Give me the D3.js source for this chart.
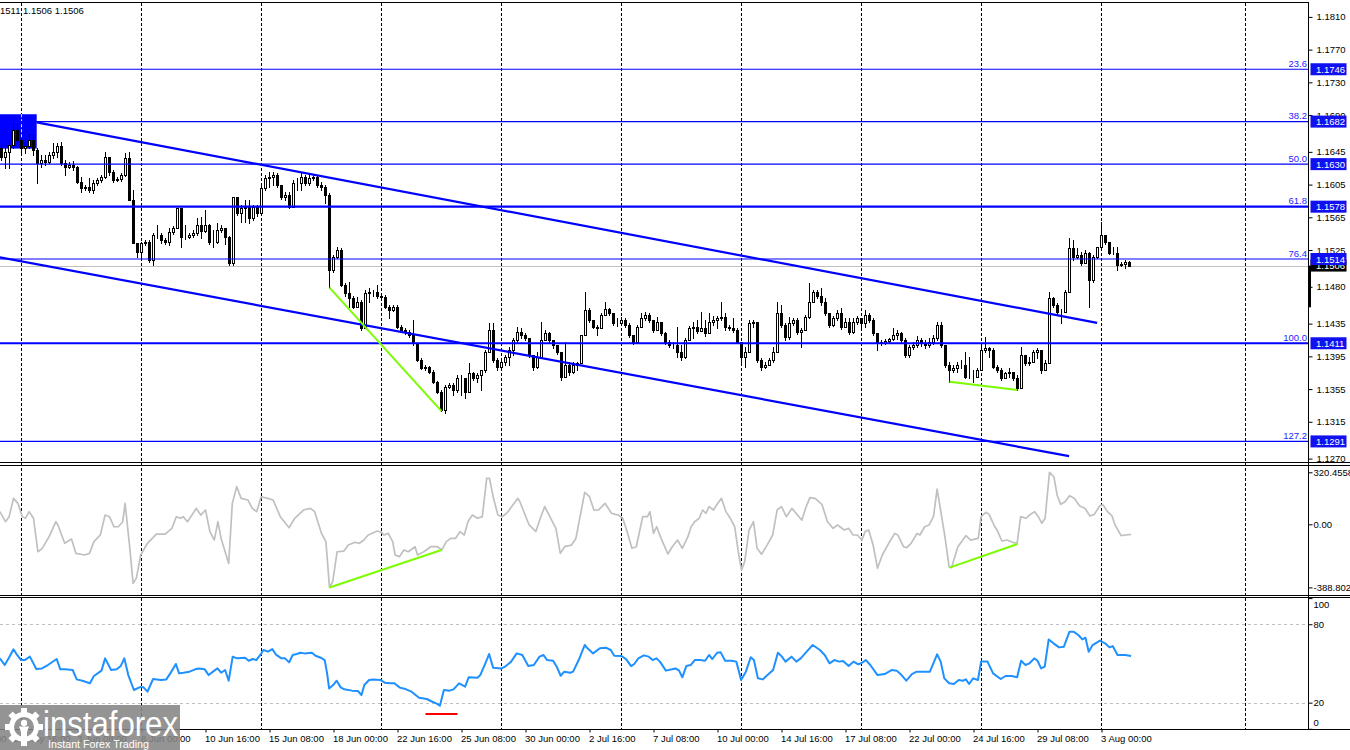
<!DOCTYPE html>
<html><head><meta charset="utf-8">
<script src="https://cdn.jsdelivr.net/npm/d3@7"></script>
<style>
body{margin:0;background:#fff;overflow:hidden}
svg{display:block}
text{font-family:"Liberation Sans",Arial,sans-serif}
</style></head>
<body><svg id="c" width="1350" height="750"></svg>
<script>
// ---------- DATA (prices in pips above 1.1000, H4 bars) ----------
const firstOpen = 650;
const closes = [
639,645,653,672,660,650,652,660,647,631,
635,633,641,645,652,631,627,629,627,608,
601,602,598,607,611,614,639,620,611,612,
617,638,586,534,523,534,535,513,543,543,
537,535,547,552,576,541,541,543,546,556,
548,556,535,535,549,552,541,509,590,570,
576,578,564,578,570,601,613,614,617,605,
590,592,578,607,607,614,607,613,614,605,
602,592,501,517,525,482,472,466,455,461,
430,472,474,474,469,468,455,452,455,431,
427,425,421,411,391,381,382,376,364,352,
329,358,360,354,369,369,352,375,369,372,
378,400,427,391,382,388,394,403,415,425,
421,417,397,382,394,415,424,415,409,400,
370,384,376,384,387,421,452,439,431,430,
446,453,448,436,436,439,433,421,413,431,
442,446,439,427,437,424,413,409,409,400,
394,415,430,431,426,430,424,437,439,442,
443,431,430,427,413,394,400,436,437,391,
382,384,391,400,448,433,419,436,439,425,
427,443,461,474,469,461,448,433,442,448,
431,437,425,437,442,436,446,439,424,413,
411,414,416,421,424,415,397,406,409,415,
411,409,413,417,433,409,384,378,381,384,
384,370,370,370,378,403,405,403,382,378,
368,375,376,368,356,397,387,388,400,403,
378,387,466,458,449,449,474,527,517,519,
509,521,488,517,529,543,535,521,521,507,
508,510,506];
const highs = [
653,650,660,684,680,662,662,666,666,650,
641,641,645,656,656,657,635,633,634,628,
614,605,613,611,613,617,645,638,623,614,
619,644,645,598,534,535,537,537,546,556,
546,540,552,554,576,576,556,546,549,564,
565,574,557,549,558,556,549,542,590,590,
580,586,586,580,580,605,617,620,620,619,
605,596,596,611,613,619,617,619,617,617,
608,605,595,519,529,528,485,486,469,468,
464,476,479,476,482,471,470,458,458,458,
433,430,427,439,411,393,384,383,378,365,
354,360,363,363,372,372,369,387,376,375,
378,403,436,436,393,393,397,406,417,431,
430,424,417,397,400,437,427,425,415,409,
391,413,388,388,388,421,474,454,439,433,
448,462,454,448,442,443,442,436,421,433,
448,449,448,439,443,437,425,415,413,431,
409,417,432,437,439,449,439,448,444,444,
461,448,433,442,430,406,406,439,439,437,
393,388,393,406,461,458,436,443,442,442,
430,446,485,476,476,479,466,448,444,452,
454,442,442,442,444,442,452,448,442,424,
415,416,417,430,427,425,417,409,413,420,
417,415,417,421,437,437,409,388,384,388,
391,400,394,378,381,411,419,406,405,384,
381,376,381,376,372,406,397,394,403,405,
400,391,474,468,460,453,476,540,537,528,
523,525,523,519,529,559,543,535,529,529,
510,513,511];
const lows = [
635,625,625,650,657,641,644,650,641,607,
627,629,631,638,639,629,617,625,623,607,
596,598,596,595,605,608,613,617,608,609,
609,616,586,534,517,517,531,510,507,540,
534,532,531,545,552,529,538,540,541,543,
540,547,532,529,534,547,532,507,507,568,
559,559,558,562,567,574,598,602,605,602,
587,586,576,578,598,598,605,605,611,602,
598,582,479,498,515,481,469,455,454,455,
427,430,461,469,466,465,454,442,450,430,
425,422,419,409,389,380,378,375,363,350,
328,326,356,348,351,348,344,352,366,364,
354,376,400,388,378,381,384,384,397,413,
417,415,394,378,381,394,415,411,405,398,
366,370,372,375,378,387,421,437,430,421,
430,446,446,433,432,435,431,419,410,413,
431,439,437,425,427,421,410,407,405,394,
391,393,415,418,424,426,420,424,433,430,
439,427,427,425,413,384,382,400,431,388,
378,381,384,388,400,431,415,416,433,422,
406,427,442,461,466,458,446,431,432,439,
428,431,422,424,435,427,431,437,421,403,
409,410,413,415,416,413,394,394,404,406,
408,405,406,410,415,406,382,364,376,376,
381,369,369,364,370,378,400,394,381,376,
366,368,370,366,354,368,384,384,388,393,
375,378,387,455,447,436,449,474,513,515,
507,509,455,486,515,531,532,520,520,501,
506,503,506];

// time axis
const timeBars   = [-13,3,19,35,51,67,83,99,115,131,147,163,179,195,211,227,243,259,275];
const timeLabels = ["27 May 00:00","29 May 16:00","3 Jun 08:00","8 Jun 00:00","10 Jun 16:00","15 Jun 08:00",
  "18 Jun 00:00","22 Jun 16:00","25 Jun 08:00","30 Jun 00:00","2 Jul 16:00","7 Jul 08:00","10 Jul 00:00",
  "14 Jul 16:00","17 Jul 08:00","22 Jul 00:00","24 Jul 16:00","29 Jul 08:00","3 Aug 00:00"];
const gridBars = [5,35,65,95,125,155,185,215,245,275,311];

// price axis
const priceTicks = [1.1810,1.1770,1.1730,1.1690,1.1645,1.1605,1.1565,1.1525,1.1480,1.1435,1.1395,1.1355,1.1315,1.1270];
const fibPrices = [1.1746,1.1682,1.1630,1.1578,1.1514,1.1411,1.1291];
const fibLabels = ["23.6","38.2","50.0","61.8","76.4","100.0","127.2"];
const lastPrice = 1.1506;
const lastBarLow = 1.1455;
const headerText = "1511 1.1506 1.1506";

// objects: [bar, pips]
const channelUpper = [[8.8,681],[273.9,436]];
const channelLower = [[-0.4,516],[266.9,273]];
const boxBars = [-1, 8.8];
const boxPips = [691, 649];
const priceDivs = [[[82,479],[110,328]], [[237,364],[254,354]]];

// CCI vertices [bar, value]
const cciPts = [[-0.4,78],[1,16],[1.9,47],[3,160],[4.1,129],[5.2,47],[6,37],[6.9,78],[8,37],[9.1,-169],[10.2,-148],
[11.9,-76],[13.6,16],[14.1,-4],[15.8,-117],[17.5,-91],[18.6,-179],[20.8,-189],[22,-179],[23.1,-107],[24.7,-66],
[25.9,57],[27,47],[28.1,-15],[29.2,-15],[30.3,16],[30.9,129],[32,-128],[32.9,-364],[33.7,-333],[34.8,-189],
[36.5,-117],[38.7,-60],[40.9,-60],[42.6,-25],[43.7,47],[44.8,37],[45.4,47],[46.5,16],[48.7,98],[49.8,57],[51,88],
[52.1,-45],[53.2,-97],[54.1,16],[54.9,-87],[56.8,-241],[57.7,129],[58.8,232],[59.9,160],[61.6,150],[62.7,98],
[63.8,78],[64.9,170],[66.6,160],[67.9,150],[69.7,47],[71.9,-21],[73.3,37],[75.5,88],[77.2,98],[78.3,78],[80,-56],
[81.1,-107],[82,-389],[82.8,-354],[83.9,-169],[85.6,-165],[86.7,-128],[88.4,-111],[89.5,-117],[90.6,-97],[91.7,-66],
[93.9,-41],[95,-50],[95.6,-66],[96.7,-56],[97.8,-107],[98.4,-189],[99.5,-199],[100.6,-158],[101.7,-169],[103.4,-138],
[104,-189],[105.6,-169],[107.3,-138],[109,-138],[110.1,-158],[111.2,-107],[112.3,-87],[113.5,-87],[114.6,-45],
[115.7,-66],[116.6,16],[117.7,57],[119,37],[120.2,47],[121.3,283],[122,283],[123,160],[124.1,57],[125.2,47],
[126.3,68],[129.1,160],[129.6,139],[131.9,-4],[133.6,-45],[134.7,37],[135.8,109],[136.9,57],[138.6,-25],
[139.7,-179],[140.8,-138],[142.5,-128],[143.6,-87],[145.8,197],[147,170],[148.1,88],[149.2,88],[150.9,129],
[152.5,68],[154.2,57],[155.3,37],[156.4,-45],[157.6,-148],[158.7,-138],[160.3,47],[161.5,47],[162.1,78],
[163,-56],[163.8,-15],[164.9,-87],[166.6,-183],[167.7,-138],[169,-97],[170.2,-148],[171.6,-76],[172.4,-15],
[173.3,16],[174.4,37],[175.3,88],[176.1,68],[176.9,109],[178,88],[178.9,123],[180,160],[181.1,78],[182.2,37],
[183.3,-15],[184.2,-169],[185,-282],[185.8,-230],[186.9,-35],[188,16],[188.9,-148],[190,-185],[191.4,-128],
[192.8,-66],[193.9,88],[195,109],[196.2,47],[197.6,98],[199,57],[200.1,26],[201,98],[202.1,164],[203.4,160],
[205.1,123],[206.5,16],[207.9,-25],[209,-4],[210.7,-35],[211.8,-25],[212.9,-66],[214,-66],[215.1,-97],
[215.9,-45],[216.8,-35],[217.9,-128],[219,-271],[220.2,-189],[221.8,-117],[223.3,-56],[224.1,-66],[225.5,-138],
[226.3,-144],[227.4,-117],[228.9,-56],[229.6,-66],[230.8,-15],[231.9,-4],[233,47],[233.9,217],[235.8,-66],
[236.9,-261],[237.5,-267],[239.1,-138],[241.1,-70],[242.3,-97],[244.2,-87],[244.9,47],[246.1,74],[246.9,61],
[248.1,-4],[249,-41],[250.1,-103],[251.4,-97],[252.8,-111],[253.9,-117],[254.8,47],[256.1,37],[257,57],
[258.3,78],[259.2,47],[260.1,6],[260.9,37],[262,320],[263.1,293],[263.9,181],[264.8,123],[265.9,139],[267,176],
[268.2,160],[269.5,115],[270.9,98],[272.1,51],[273.2,61],[274.6,115],[275.4,119],[276.5,78],[277.6,53],
[278.4,-4],[279.9,-70],[281,-66],[282.4,-62]];
const cciDivs = [[[82,-389],[110,-158]], [[237,-267],[254,-121]]];
const cciTicks = [320.4558, 0, -388.8028];
const cciTickLabels = ["320.4558","0.00","-388.8028"];

// RSI vertices [bar, value]
const rsiPts = [[-0.4,53.9],[0.8,48.8],[2,55.2],[3,60.8],[3.9,56.5],[4.9,52.6],[5.8,52.6],[7.1,55.2],[8.7,45.7],
[10.1,46.2],[11.6,48.8],[13.8,53.4],[14.7,45.5],[15.9,45.5],[17.8,45],[18.8,37.8],[20.2,36.8],[22.1,34.8],
[23.1,40.4],[25,44.5],[25.9,53.9],[27.4,45],[28.8,45.5],[29.8,48],[30.7,53.9],[31.7,41.1],[33.1,29.7],[34.5,31.7],
[35.5,31.7],[36.5,28.4],[37.9,38.1],[39.8,37.3],[41.2,37.8],[42.2,42.4],[43.6,49.6],[44.4,42.4],[45.5,42.9],
[47,43.7],[48.4,45.5],[49.4,46.2],[50.8,45.5],[51.8,41.1],[53.2,44.5],[54,46.2],[54.9,42.9],[55.9,45],[56.8,36.8],
[57.8,55.2],[58.9,53.9],[60.9,54.4],[61.8,52.1],[62.8,53.4],[63.7,52.6],[64.7,56.5],[65.5,60.3],[66.6,59],
[67.7,61],[68.7,56.5],[70,53.9],[70.9,53.9],[71.9,50.8],[72.8,56.5],[73.8,57.2],[74.7,58.2],[75.7,57.7],
[77.6,58.2],[78.5,55.9],[79.8,54.4],[80.8,52.6],[81.4,42.4],[81.9,30.9],[82.9,33.5],[83.8,36.8],[84.8,31.7],
[85.7,30.2],[87.6,29.2],[89.1,28.9],[90,25.8],[90.7,33.5],[91.9,37.3],[92.9,37.8],[94.8,37.3],[95.8,35.3],
[97.2,34.8],[98.2,34.8],[99.6,31.5],[101,30.4],[102.5,28.4],[104.4,23.8],[106.3,22.8],[107.7,20.7],[108.7,19.5],
[109.6,17.7],[110.6,29.7],[112,29.2],[113,30.2],[114.4,34.8],[115.9,32.2],[116.8,39.4],[119,39.1],[119.7,41.1],
[120.9,49.6],[121.9,57.2],[122.9,46.8],[125,46.2],[125.9,47.5],[127.4,51.4],[128.8,57.7],[130.2,56.5],
[131.7,48],[133.1,48.8],[134.5,55.2],[135.5,56.5],[136.4,52.6],[137.9,52.1],[138.8,47.5],[139.8,40.6],
[140.7,43.7],[142.2,42.9],[142.9,43.7],[144.3,52.6],[145.8,64.1],[146.5,61.6],[147.9,57.7],[149.6,61.6],
[151.1,62.1],[152.3,60.3],[153.2,55.9],[155,55.7],[156.2,53.1],[157.4,48],[158.2,49.6],[159.2,53.9],[160.6,56.2],
[161.8,55.2],[162.8,52.6],[163.7,53.9],[164.6,51.4],[166.1,44.5],[167.6,45.5],[168.5,46.2],[169.4,44.5],
[170.2,39.4],[171.2,48],[172.3,48.8],[173.3,52.6],[174.7,52.6],[175.9,52.1],[176.9,56.5],[177.7,53.4],
[178.9,58.2],[179.8,58.5],[180.9,52.1],[182.5,52.1],[183.7,51.4],[184.9,37.3],[186.1,43.7],[187.3,54.7],
[188.1,52.6],[189.1,38.6],[190.3,37.8],[191.5,41.1],[192.9,45],[194.1,58.2],[195.1,55.2],[196,51.4],[197.5,55.2],
[198.7,51.4],[199.8,53.9],[201.3,59],[202.8,64.1],[204.6,60.3],[205.8,56.5],[207,50.1],[208.2,52.6],[209.4,51.4],
[210.4,51.9],[211.8,48],[213,51.4],[214.2,49.3],[215.2,50.6],[216.1,52.6],[217.2,48.8],[219,41.1],[220.8,41.9],
[222.6,45],[223.8,44.5],[225,41.1],[226.2,36.8],[227.6,41.9],[228.8,43.7],[232.1,43.7],[233.9,57],[234.8,51.4],
[235.7,38.6],[236.9,34.8],[238.1,34.3],[239.3,37.3],[240.3,36.8],[241.1,37.8],[241.9,34.3],[242.9,38.6],
[244.1,37.3],[244.9,51.4],[246.5,51.4],[247.9,42.4],[249.8,38.1],[251,40.4],[252.5,40.4],[253.9,39.4],
[254.9,52.1],[256,48.8],[257,50.1],[258.2,53.9],[259,52.1],[259.9,46.2],[260.8,47.5],[261.8,68.4],[263,65.4],
[264.4,62.3],[265.6,62.8],[267,74.3],[268,74.3],[269.2,71.8],[270.2,68.4],[271,69.7],[271.8,59],[272.8,64.1],
[274.6,67.4],[276.1,64.9],[277,62.3],[277.8,63.3],[279,56.5],[280.9,56.5],[282.4,55.7]];
const rsiLevels = [80, 20];
const rsiTicks = [100, 80, 20, 0];
const rsiMark = [[106, 11.3],[114, 11.3]];

// ---------- LAYOUT ----------
const W = 1350, H = 750, axisX = 1308.5;
const P = v => 1.1 + v/10000;
const svg = d3.select("#c");
const x = d3.scaleLinear().domain([0, 282]).range([1.5, 1129.5]);
const yP = d3.scaleLinear().domain([1.1270, 1.1810]).range([458.6, 16.9]);
const yC = d3.scaleLinear().domain([-388.8028, 320.4558]).range([587.4, 472.3]);
const yR = d3.scaleLinear().domain([0, 100]).range([728.8, 598.1]);
const BLUE = "#0000ff";

const defs = svg.append("defs");
function clip(id, y0, y1){ defs.append("clipPath").attr("id", id).append("rect").attr("x",0).attr("y",y0).attr("width",axisX).attr("height",y1-y0); }
clip("cMain", 3, 462); clip("cCci", 466, 595); clip("cRsi", 598, 729);

svg.append("rect").attr("width",W).attr("height",H).attr("fill","#fff");

// vertical dashed grid
svg.append("g").selectAll("line").data(gridBars).join("line")
  .attr("x1", d=>x(d)).attr("x2", d=>x(d)).attr("y1", 3).attr("y2", 729)
  .attr("stroke","#000").attr("stroke-width",1).attr("stroke-dasharray","3,2");

// RSI levels
svg.append("g").selectAll("line").data(rsiLevels).join("line")
  .attr("x1",0).attr("x2",axisX).attr("y1",d=>Math.round(yR(d))+0.5).attr("y2",d=>Math.round(yR(d))+0.5)
  .attr("stroke","#c0c0c0").attr("stroke-dasharray","3,3");

// ---- main panel ----
const gM = svg.append("g").attr("clip-path","url(#cMain)");
// blue box (background object)
gM.append("rect").attr("x", x(boxBars[0])).attr("width", x(boxBars[1]) - x(boxBars[0]))
  .attr("y", yP(P(boxPips[0]))).attr("height", yP(P(boxPips[1])) - yP(P(boxPips[0]))).attr("fill", BLUE);
gM.append("line").attr("x1",x(gridBars[0])).attr("x2",x(gridBars[0]))
  .attr("y1",yP(P(boxPips[0]))).attr("y2",yP(P(boxPips[1]))).attr("stroke","#ffff00").attr("stroke-dasharray","3,2");

// last price line
gM.append("line").attr("x1",0).attr("x2",axisX).attr("y1",Math.round(yP(lastPrice))+0.5).attr("y2",Math.round(yP(lastPrice))+0.5)
  .attr("stroke","#c0c0c0");

// candles
const candles = closes.map((c,i)=>{
  const o = i===0 ? firstOpen : closes[i-1];
  return {i, o, c, h: Math.max(highs[i], o, c), l: Math.min(lows[i], o, c)};
});
const gC = gM.append("g").attr("shape-rendering","crispEdges");
gC.selectAll("line.w").data(candles).join("line").attr("class","w")
  .attr("x1",d=>x(d.i)).attr("x2",d=>x(d.i))
  .attr("y1",d=>Math.round(yP(P(d.h)))).attr("y2",d=>Math.round(yP(P(d.l)))+1)
  .attr("stroke","#000");
gC.selectAll("rect.b").data(candles).join("rect").attr("class","b")
  .attr("x",d=>x(d.i)-1).attr("width",2)
  .attr("y",d=>Math.round(yP(P(Math.max(d.o,d.c))))+0.5)
  .attr("height",d=>Math.max(0, Math.round(yP(P(Math.min(d.o,d.c)))) - Math.round(yP(P(Math.max(d.o,d.c))))))
  .attr("fill",d=>d.c>=d.o ? "#fff" : "#000").attr("stroke","#000");

// fib levels
const thick = new Set(["61.8","100.0"]);
gM.append("g").selectAll("line").data(fibPrices).join("line")
  .attr("x1",0).attr("x2",axisX)
  .attr("y1",d=>yP(d)).attr("y2",d=>yP(d))
  .attr("stroke",BLUE).attr("stroke-width",(d,i)=>thick.has(fibLabels[i])?2.2:1.1);
svg.append("g").selectAll("text").data(fibPrices).join("text")
  .attr("x",axisX-1.5).attr("y",d=>yP(d)-2.5).attr("text-anchor","end")
  .attr("font-size","9.5px").attr("fill","#2424ff").text((d,i)=>fibLabels[i]);

// channel lines
const lineP = d3.line().x(d=>x(d[0])).y(d=>yP(P(d[1])));
[channelUpper, channelLower].forEach(ch=>{
  gM.append("path").attr("d", lineP(ch)).attr("fill","none").attr("stroke",BLUE).attr("stroke-width",2.2);
});
// divergence lines
priceDivs.forEach(dv=>{
  gM.append("path").attr("d", lineP(dv)).attr("fill","none").attr("stroke","#7cfc00").attr("stroke-width",2);
});

// ---- CCI panel ----
const gCc = svg.append("g").attr("clip-path","url(#cCci)");
gCc.append("path").attr("d", d3.line().x(d=>x(d[0])).y(d=>yC(d[1]))(cciPts))
  .attr("fill","none").attr("stroke","#c0c0c0").attr("stroke-width",1.7).attr("stroke-linejoin","round");
cciDivs.forEach(dv=>{
  gCc.append("path").attr("d", d3.line().x(d=>x(d[0])).y(d=>yC(d[1]))(dv))
    .attr("fill","none").attr("stroke","#7cfc00").attr("stroke-width",2);
});

// ---- RSI panel ----
const gR = svg.append("g").attr("clip-path","url(#cRsi)");
gR.append("path").attr("d", d3.line().x(d=>x(d[0])).y(d=>yR(d[1]))(rsiPts))
  .attr("fill","none").attr("stroke","#1e90ff").attr("stroke-width",2).attr("stroke-linejoin","round");
gR.append("path").attr("d", d3.line().x(d=>x(d[0])).y(d=>yR(d[1]))(rsiMark))
  .attr("fill","none").attr("stroke","#ff0000").attr("stroke-width",2);

// ---- frames ----
const fr = svg.append("g").attr("stroke","#000").attr("shape-rendering","crispEdges");
[2.5, 462.5, 465.5, 595.5, 597.5, 729.5].forEach(yy=>{
  fr.append("line").attr("x1",0).attr("x2", yy===2.5 ? axisX : W).attr("y1",yy).attr("y2",yy);
});
fr.append("line").attr("x1",axisX).attr("x2",axisX).attr("y1",2.5).attr("y2",729.5);

// ---- axes ----
const axFont = g => g.selectAll("text").attr("font-size","9.5px").attr("fill","#000")
  .attr("font-family","'Liberation Sans',Arial,sans-serif");
const axP = svg.append("g").attr("transform",`translate(${axisX},0)`)
  .call(d3.axisRight(yP).tickValues(priceTicks).tickSize(4).tickPadding(4).tickFormat(d3.format(".4f")));
axP.select(".domain").remove(); axFont(axP);
const axC = svg.append("g").attr("transform",`translate(${axisX},0)`)
  .call(d3.axisRight(yC).tickValues(cciTicks).tickSize(4).tickPadding(1).tickFormat((d,i)=>cciTickLabels[i]));
axC.select(".domain").remove(); axFont(axC);
const axR = svg.append("g").attr("transform",`translate(${axisX},0)`)
  .call(d3.axisRight(yR).tickValues(rsiTicks).tickSize(4).tickPadding(1).tickFormat(d3.format("d")));
axR.select(".domain").remove(); axFont(axR);
axR.selectAll(".tick").filter(d=>d===100).select("text").attr("dy","0.32em").attr("y",6);
axR.selectAll(".tick").filter(d=>d===0).select("text").attr("y",-6);

// price boxes on axis
const boxG = svg.append("g");
function priceBox(p, bg, label){
  const yy = yP(p);
  boxG.append("rect").attr("x",axisX+2).attr("y",yy-6).attr("width",36).attr("height",12).attr("fill",bg);
  boxG.append("text").attr("x",axisX+7.5).attr("y",yy+3.5).attr("font-size","9.5px").attr("fill","#fff").text(label);
}
boxG.append("rect").attr("x",axisX-0.5).attr("width",3).attr("y",yP(lastPrice)).attr("height",yP(lastBarLow)-yP(lastPrice)).attr("fill","#000");
priceBox(lastPrice, "#000", d3.format(".4f")(lastPrice));
fibPrices.forEach(p=>priceBox(p, "#1010f0", d3.format(".4f")(p)));

// time axis
const axT = svg.append("g").attr("transform","translate(0,729.5)")
  .call(d3.axisBottom(x).tickValues(timeBars).tickSize(3).tickPadding(3).tickFormat((d,i)=>timeLabels[i]));
axT.select(".domain").remove(); axFont(axT);
axT.selectAll("text").attr("text-anchor","start").attr("dx","-1");

// header
svg.append("text").attr("x",0).attr("y",14).attr("font-size","9.5px").attr("fill","#000").text(headerText);

// ---- logo ----
const lg = svg.append("g");
lg.append("rect").attr("x",0).attr("y",705).attr("width",180).attr("height",45).attr("fill","#858585").attr("opacity",0.88);
const gear = lg.append("g").attr("transform","translate(24,727)").attr("fill","#fff");
gear.append("path").attr("d", d3.arc()({innerRadius:10, outerRadius:15, startAngle:0, endAngle:2*Math.PI}));
d3.range(8).forEach(k=>{
  gear.append("rect").attr("x",-3).attr("y",-19).attr("width",6).attr("height",6).attr("transform",`rotate(${k*45})`);
});
gear.append("circle").attr("cx",0).attr("cy",-4).attr("r",3.2);
gear.append("path").attr("d","M-5,-0.5 L5,-0.5 L3,5 L3,13 L-3,13 L-3,5 Z");
lg.append("text").attr("x",43).attr("y",736).attr("font-family","'Open Sans',sans-serif").attr("font-weight",300)
  .attr("font-size","35px").attr("fill","#fff").attr("textLength",135).attr("lengthAdjust","spacingAndGlyphs").text("instaforex");
lg.append("text").attr("x",48).attr("y",748).attr("font-family","'Open Sans',sans-serif")
  .attr("font-size","11.5px").attr("fill","#fff").attr("textLength",101).attr("lengthAdjust","spacingAndGlyphs").text("Instant Forex Trading");
</script></body></html>
